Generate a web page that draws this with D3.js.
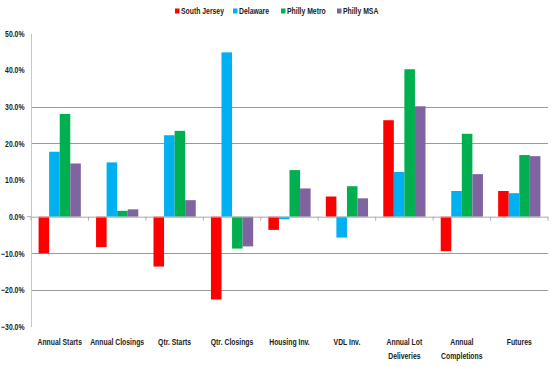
<!DOCTYPE html>
<html><head><meta charset="utf-8">
<script src="https://cdn.jsdelivr.net/npm/d3@7"></script>
<style>body{margin:0;background:#fff}svg{display:block}text{font-family:"Liberation Sans",Arial,sans-serif;font-weight:bold;fill:#1a1a1a}</style>
</head><body><svg id="c" width="554" height="367"></svg>
<script>
const categories = [["Annual Starts"],["Annual Closings"],["Qtr. Starts"],["Qtr. Closings"],["Housing Inv."],["VDL Inv."],["Annual Lot","Deliveries"],["Annual","Completions"],["Futures"]];
const seriesNames = ["South Jersey","Delaware","Philly Metro","Philly MSA"];
const southJersey = [-10.0,-8.3,-13.6,-22.6,-3.6,5.5,26.3,-9.4,7.0];
const delaware    = [17.7,14.8,22.2,44.8,-0.7,-5.7,12.2,7.0,6.4];
const phillyMetro = [28.0,1.6,23.4,-8.7,12.7,8.3,40.2,22.6,16.8];
const phillyMSA   = [14.5,2.0,4.5,-8.1,7.7,5.0,30.1,11.6,16.5];
const yTicks = [50,40,30,20,10,0,-10,-20,-30];
const gridShown = [30,20,-10,-20];
const colors = ["#FF0000","#00B0F0","#00B050","#8064A2"];
const series = [southJersey,delaware,phillyMetro,phillyMSA];

const K = 0.76;
function squeeze(sel){
  sel.each(function(){
    const w = this.getComputedTextLength();
    if (w>0){ this.setAttribute("textLength", (w*K).toFixed(2)); this.setAttribute("lengthAdjust","spacingAndGlyphs"); }
  });
}

const svg = d3.select("#c");
const left = 31, right = 548;
const y = d3.scaleLinear().domain([-30,50]).range([326.7,33.3]);
const x0 = d3.scaleBand().domain(d3.range(categories.length)).range([left,right]).paddingInner(0).paddingOuter(0);
const x1 = d3.scaleBand().domain(d3.range(series.length)).range([0,x0.bandwidth()]).paddingOuter(0.72).paddingInner(0);

// gridlines
svg.append("g").selectAll("line").data(gridShown).join("line")
  .attr("x1",left).attr("x2",right).attr("y1",d=>Math.round(y(d))+0.5).attr("y2",d=>Math.round(y(d))+0.5)
  .attr("stroke","#9a9a9a").attr("stroke-width",1);

// y axis
const yAxis = d3.axisLeft(y).tickValues(yTicks).tickSize(0).tickPadding(6.5).tickFormat(d=>d3.format(".1f")(d)+"%");
const gy = svg.append("g").attr("transform",`translate(${left},0)`).call(yAxis);
gy.select(".domain").attr("stroke","#c8c8c8");
gy.selectAll("text").style("font-size","9px").attr("fill","#1a1a1a").attr("font-family",null);
squeeze(gy.selectAll("text"));

// bars
const groups = svg.append("g").selectAll("g").data(categories).join("g")
  .attr("transform",(d,i)=>`translate(${x0(i)},0)`);
groups.selectAll("rect").data((d,i)=>series.map((s,j)=>({j,v:s[i]}))).join("rect")
  .attr("x",d=>x1(d.j)).attr("width",x1.bandwidth())
  .attr("y",d=>y(Math.max(0,d.v))).attr("height",d=>Math.abs(y(d.v)-y(0)))
  .attr("fill",d=>colors[d.j]);

// zero axis with ticks
const xAxis = d3.axisBottom(x0).tickSize(0).tickFormat("");
const gx = svg.append("g").attr("transform",`translate(0,${y(0)})`).call(xAxis);
gx.select(".domain").attr("stroke","#a8a8a8");
svg.append("g").selectAll("line").data(d3.range(categories.length+1)).join("line")
  .attr("x1",i=>left+i*x0.bandwidth()).attr("x2",i=>left+i*x0.bandwidth())
  .attr("y1",y(0)).attr("y2",y(0)+4).attr("stroke","#b0b0b0");
svg.append("line").attr("x1",left-4).attr("x2",left).attr("y1",y(0)).attr("y2",y(0)).attr("stroke","#b0b0b0");

// category labels
const labData = [];
categories.forEach((c,i)=>c.forEach((t,k)=>labData.push({i,k,t})));
const lab = svg.append("g").selectAll("text").data(labData).join("text")
  .attr("x",d=>x0(d.i)+x0.bandwidth()/2).attr("y",d=>344.5+d.k*14.5)
  .attr("text-anchor","middle").style("font-size","9px").text(d=>d.t);
squeeze(lab);

// legend
const lx = [175,233,281,337];
const lg = svg.append("g").selectAll("g").data(seriesNames).join("g")
  .attr("transform",(d,i)=>`translate(${lx[i]},11)`);
lg.append("rect").attr("x",0).attr("y",-2.5).attr("width",4.5).attr("height",5).attr("fill",(d,i)=>colors[i]);
const lt = lg.append("text").attr("x",6).attr("y",3.3).style("font-size","9px").text(d=>d);
squeeze(lt);
</script></body></html>
